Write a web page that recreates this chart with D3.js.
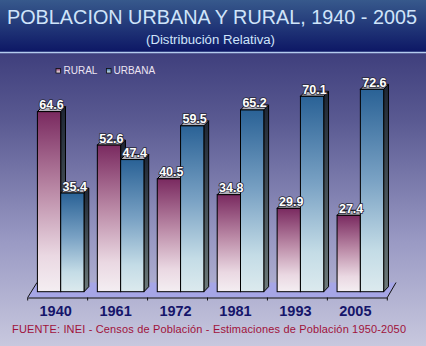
<!DOCTYPE html>
<html>
<head>
<meta charset="utf-8">
<script src="https://cdn.jsdelivr.net/npm/d3@7"></script>
<style>
html,body{margin:0;padding:0;background:#fff;}
svg{display:block;}
</style>
</head>
<body>
<script>
const years = ["1940","1961","1972","1981","1993","2005"];
const rural = [64.6,52.6,40.5,34.8,29.9,27.4];
const urbana = [35.4,47.4,59.5,65.2,70.1,72.6];
const seriesNames = ["RURAL","URBANA"];
const titleText = "POBLACION URBANA Y RURAL, 1940 - 2005";
const subtitleText = "(Distribución Relativa)";
const sourceText = "FUENTE: INEI - Censos de Población - Estimaciones de Población 1950-2050";

const W = 426, H = 346;
const svg = d3.select("body").append("svg").attr("width", W).attr("height", H);
const defs = svg.append("defs");

function lin(id, stops, vertical=true){
  const g = defs.append("linearGradient").attr("id", id)
    .attr("x1",0).attr("y1",0).attr("x2", vertical?0:1).attr("y2", vertical?1:0);
  stops.forEach(s => g.append("stop").attr("offset", s[0]).attr("stop-color", s[1]));
}
lin("bg", [[0,"#2a2a6c"],[0.35,"#5a5a92"],[0.7,"#9a9ac4"],[1,"#c8c8de"]]);
lin("band", [[0,"#37598c"],[1,"#0d1765"]]);
lin("gRural", [[0,"#7a2a60"],[0.45,"#bc8ca8"],[0.8,"#ead8e2"],[1,"#f4eef2"]]);
lin("gUrb", [[0,"#2a6296"],[0.45,"#7aa2c4"],[0.8,"#c4dce6"],[1,"#dceaee"]]);
lin("gSide", [[0,"#1e2634"],[1,"#6c7a7a"]]);

// background
svg.append("rect").attr("x",0).attr("y",0).attr("width",W).attr("height",H).attr("fill","url(#bg)");
svg.append("rect").attr("x",0).attr("y",0).attr("width",W).attr("height",52).attr("fill","url(#band)");
svg.append("line").attr("x1",0).attr("x2",W).attr("y1",52.5).attr("y2",52.5)
  .attr("stroke","#b4cbee").attr("stroke-width",1.5);

// title
svg.append("text").attr("x",212).attr("y",24).attr("text-anchor","middle")
  .attr("font-family","Liberation Sans, Arial, sans-serif").attr("font-size",19.5)
  .attr("fill","#cfe4fa").attr("textLength",410).attr("lengthAdjust","spacingAndGlyphs")
  .text(titleText);
svg.append("text").attr("x",210.5).attr("y",44).attr("text-anchor","middle")
  .attr("font-family","Liberation Sans, Arial, sans-serif").attr("font-size",12)
  .attr("fill","#cfe4fa").attr("textLength",129).attr("lengthAdjust","spacingAndGlyphs")
  .text(subtitleText);

// scales
const x = d3.scaleBand().domain(years).range([27.7, 387.3]).padding(0);
const xs = d3.scaleBand().domain(seriesNames).range([9.7, 9.7+46.6]).padding(0);
const y = d3.scaleLinear().domain([0, 80]).range([291.7, 68.7]);
const DX = 4.8, DY = 5;

// floor
const y0 = y(0);
const fl = [[27.7, 297.5],[37, 282.5],[396, 282.5],[387.3, 297.5]];
svg.append("path").attr("d", d3.line()(fl)).attr("fill","#a6a6e6").attr("stroke","none");
svg.append("path").attr("d", d3.line()([fl[0],fl[1]])).attr("stroke","#111").attr("fill","none");
svg.append("path").attr("d", d3.line()([fl[3],fl[2]])).attr("stroke","#111").attr("fill","none");

// axis
const axis = d3.axisBottom(x).tickSize(0).tickFormat("");
const ag = svg.append("g").attr("transform","translate(0,297.5)").call(axis);
ag.select(".domain").attr("stroke","#111");
const bounds = years.map(d => x(d)).concat([x.range()[1]]);
svg.append("g").selectAll("line").data(bounds).join("line")
  .attr("x1",d=>d).attr("x2",d=>d).attr("y1",297.5).attr("y2",300.5).attr("stroke","#111");
svg.append("g").selectAll("text").data(years).join("text")
  .attr("x", d => x(d) + x.bandwidth()/2 - 2).attr("y", 316)
  .attr("text-anchor","middle").attr("font-family","Liberation Sans, Arial, sans-serif")
  .attr("font-weight","bold").attr("font-size",14.5).attr("fill","#15156a")
  .text(d => d);

// bars
const data = years.map((yr,i) => ({yr, vals:[{s:"RURAL",v:rural[i],fill:"url(#gRural)"},{s:"URBANA",v:urbana[i],fill:"url(#gUrb)"}]}));
const bg = svg.append("g");
data.forEach(d => {
  d.vals.forEach(b => {
    const x0 = x(d.yr) + xs(b.s), w = xs.bandwidth(), yt = y(b.v), yb = y(0);
    const g = bg.append("g");
    // side
    g.append("path").attr("d", d3.line()([[x0+w,yt],[x0+w+DX,yt-DY],[x0+w+DX,yb-DY],[x0+w,yb]])+"Z")
      .attr("fill","url(#gSide)").attr("stroke","#000").attr("stroke-width",1);
    // top
    g.append("path").attr("d", d3.line()([[x0,yt],[x0+DX,yt-DY],[x0+w+DX,yt-DY],[x0+w,yt]])+"Z")
      .attr("fill","#b2b2bc").attr("stroke","#000").attr("stroke-width",1);
    // front
    g.append("rect").attr("x",x0).attr("y",yt).attr("width",w).attr("height",yb-yt)
      .attr("fill",b.fill).attr("stroke","#000").attr("stroke-width",1);
  });
});
// value labels
data.forEach(d => {
  d.vals.forEach(b => {
    const x0 = x(d.yr) + xs(b.s), w = xs.bandwidth();
    svg.append("text").attr("x", x0 + w/2 + DX/2).attr("y", y(b.v) - 2.5)
      .attr("text-anchor","middle").attr("font-family","Liberation Sans, Arial, sans-serif")
      .attr("font-weight","bold").attr("font-size",12.5).attr("fill","#fff")
      .attr("stroke","#2a2a3a").attr("stroke-width",1.6).attr("paint-order","stroke")
      .text(b.v.toFixed(1));
  });
});

// legend
const leg = [{s:"RURAL",fill:"url(#gRural)",sx:56,tx:63.5},{s:"URBANA",fill:"url(#gUrb)",sx:106.5,tx:113.5}];
leg.forEach(l => {
  svg.append("rect").attr("x",l.sx).attr("y",68.5).attr("width",4.5).attr("height",4.5)
    .attr("fill",l.fill).attr("stroke","#111").attr("stroke-width",0.8);
  svg.append("text").attr("x",l.tx).attr("y",73.5).attr("font-family","Liberation Sans, Arial, sans-serif")
    .attr("font-size",10).attr("fill","#ece4f2").text(l.s);
});

// source
svg.append("text").attr("x",12).attr("y",332.5).attr("font-family","Liberation Sans, Arial, sans-serif")
  .attr("font-size",11).attr("fill","#a0123a").attr("textLength",394).attr("lengthAdjust","spacing")
  .text(sourceText);
</script>
</body>
</html>
